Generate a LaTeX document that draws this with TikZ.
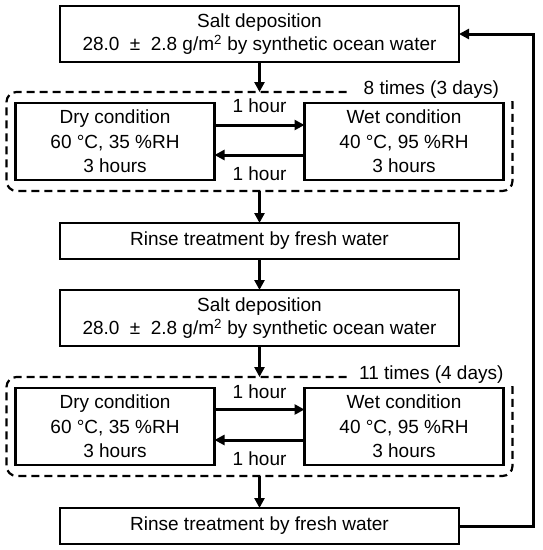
\documentclass[tikz,border=0pt]{standalone}
\usepackage{fontspec}
\setmainfont{Liberation Sans}
\usetikzlibrary{arrows.meta,positioning,fit}

\begin{document}
\begin{tikzpicture}
  [
  font=\fontsize{19}{23}\selectfont,
  stage/.style={rectangle,draw,line width=2.4pt,minimum width=399pt,align=center,inner sep=0pt,outer sep=0pt},
  cond/.style={rectangle,draw,line width=2.4pt,minimum width=199pt,minimum height=77pt,align=center,inner sep=0pt,outer sep=0pt,font=\fontsize{19}{24.5}\selectfont},
  loop/.style={rectangle,draw,line width=2.2pt,dash pattern=on 8pt off 5pt,rounded corners=10pt,inner xsep=9pt,inner ysep=11pt,outer sep=0pt},
  cycles/.style={fill=white,anchor=base east,minimum width=166pt,inner ysep=3pt},
  flow/.style={-{Triangle[length=10pt,width=10pt]},line width=3pt}
  ]
  \useasboundingbox (0,0) rectangle (542pt,-550pt);
  % first salt spray block
  \node[stage,minimum height=56pt] (salt1) at (259.5pt,-34pt)
    {Salt deposition\\28.0\hspace{0.55em}±\hspace{0.55em}2.8 g/m\textsuperscript{2} by synthetic ocean water};
  \coordinate[below = 79.5pt of salt1] (mid1);
  \node[cond] (dry1) [left = 45pt of mid1] {Dry condition\\60 °C, 35 \%RH\\3 hours};
  \node[cond] (wet1) [right = 45pt of mid1] {Wet condition\\40 °C, 95 \%RH\\3 hours};
  \node[loop,fit=(dry1)(wet1)] (loop1) {};
  \node[cycles] (times1) at ([xshift=2pt,yshift=-2pt]loop1.north east) {8 times (3 days)};
  \node[stage,minimum height=36pt] (rinse1) [below = 81.5pt of mid1] {Rinse treatment by fresh water};
  % second salt spray block
  \node[stage,minimum height=56pt] (salt2) [below = 31pt of rinse1]
    {Salt deposition\\28.0\hspace{0.55em}±\hspace{0.55em}2.8 g/m\textsuperscript{2} by synthetic ocean water};
  \coordinate[below = 80.5pt of salt2] (mid2);
  \node[cond] (dry2) [left = 45pt of mid2] {Dry condition\\60 °C, 35 \%RH\\3 hours};
  \node[cond] (wet2) [right = 45pt of mid2] {Wet condition\\40 °C, 95 \%RH\\3 hours};
  \node[loop,fit=(dry2)(wet2)] (loop2) {};
  \node[cycles] (times2) at ([xshift=2pt,yshift=-2pt]loop2.north east) {11 times (4 days)};
  \node[stage,minimum height=36pt] (rinse2) [below = 81.5pt of mid2] {Rinse treatment by fresh water};

  \draw[flow] ([yshift=16.5pt]dry1.east) -- ([yshift=16.5pt]wet1.west)
    node[midway,above=7pt] (go1) {1 hour};
  \draw[flow] ([yshift=-13.5pt]wet1.west) -- ([yshift=-13.5pt]dry1.east)
    node[midway,below=7pt] (back1) {1 hour};
  \draw[flow] ([yshift=17pt]dry2.east) -- ([yshift=17pt]wet2.west)
    node[midway,above=6pt] (go2) {1 hour};
  \draw[flow] ([yshift=-13.5pt]wet2.west) -- ([yshift=-13.5pt]dry2.east)
    node[midway,below=7pt] (back2) {1 hour};

  \draw[flow] (salt1) -- (loop1);
  \draw[flow] (loop1) -- (rinse1);
  \draw[flow] (rinse1) -- (salt2);
  \draw[flow] (salt2) -- (loop2);
  \draw[flow] (loop2) -- (rinse2);
  \draw[flow] (rinse2.east) -- ++(74pt,0) |- (salt1.east);
\end{tikzpicture}
\end{document}
